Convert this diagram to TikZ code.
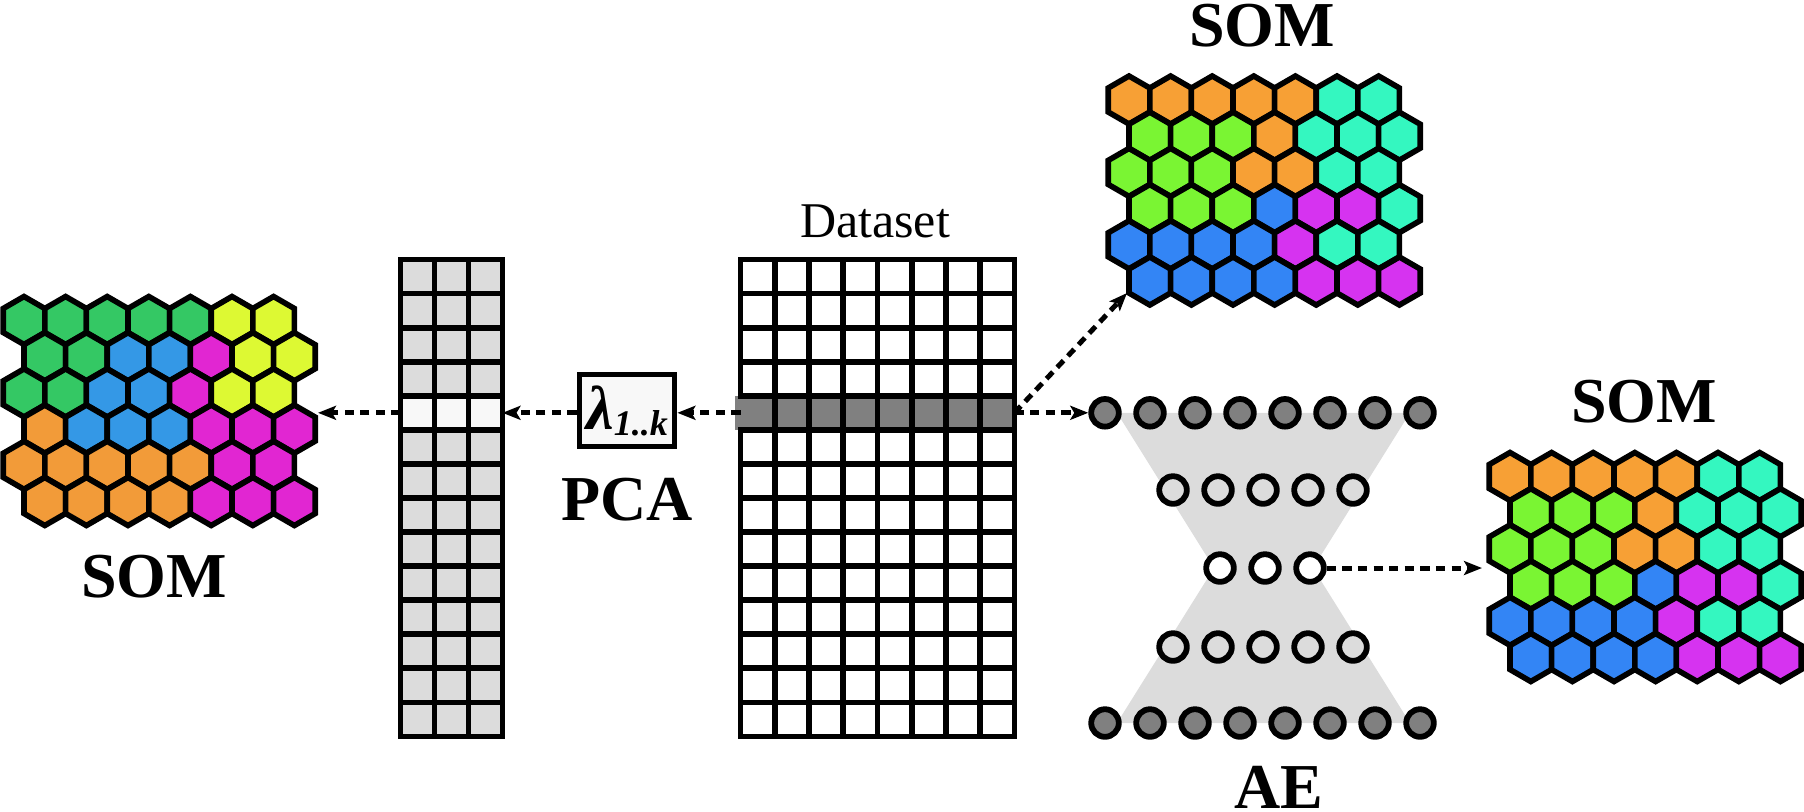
\documentclass[tikz,border=0pt]{standalone}
\usepackage{fontspec}
\setmainfont{Liberation Serif}
\usetikzlibrary{arrows.meta}
\definecolor{lgreen}{HTML}{34C864}
\definecolor{lyellow}{HTML}{DDF933}
\definecolor{lblue}{HTML}{3498E6}
\definecolor{lmag}{HTML}{E126D2}
\definecolor{lorange}{HTML}{F29B39}
\definecolor{torange}{HTML}{F7A035}
\definecolor{tturq}{HTML}{34F7C0}
\definecolor{tlime}{HTML}{7AF533}
\definecolor{tblue}{HTML}{3385F5}
\definecolor{tpurp}{HTML}{D633F0}
\definecolor{lightgr}{HTML}{DCDCDC}
\definecolor{midgr}{HTML}{808080}
\definecolor{offwhite}{HTML}{F8F8F8}
\newcommand\hexat[3]{%
  \filldraw[hexcell, fill=#3] ({#1},{#2-24}) -- ({#1+20.8},{#2-12}) -- ({#1+20.8},{#2+12})
    -- ({#1},{#2+24}) -- ({#1-20.8},{#2+12}) -- ({#1-20.8},{#2-12}) -- cycle;}
\newcommand\drawsom[3]{%
  \foreach \rowcols [count=\ri from 0] in {#3} {%
    \foreach \hcol [count=\ci from 0] in \rowcols {%
      \pgfmathsetmacro\hx{#1+\ci*41.6+mod(\ri,2)*20.8}%
      \pgfmathsetmacro\hy{#2+\ri*36.2}%
      \hexat{\hx}{\hy}{\hcol}%
    }}}
\begin{document}
\begin{tikzpicture}[x=0.5pt,y=-0.5pt,
  hexcell/.style={draw=black, line width=2.8pt},
  gridline/.style={draw=black, line width=2.9pt, line cap=rect},
  flow/.style={line width=2.5pt, dash pattern=on 4.6pt off 3.2pt,
    -{Stealth[length=9pt,width=7pt,inset=2pt]}},
  biglabel/.style={font=\fontsize{32}{36}\selectfont\bfseries, inner sep=0pt, anchor=base},
  smalllabel/.style={font=\fontsize{25}{28}\selectfont, inner sep=0pt, anchor=base},
  lambox/.style={draw=black, line width=2.9pt, fill=offwhite, minimum width=47.5pt,
    minimum height=36pt, inner sep=0pt},
  unitbase/.style={circle, draw=black, line width=2.9pt, minimum size=13.8pt, inner sep=0pt},
  unitio/.style={unitbase, fill=midgr},
  unithid/.style={unitbase, fill=lightgr},
  unitcode/.style={unitbase, fill=white}]
\useasboundingbox (0,0) rectangle (1804,811);

% ---------- SOM maps ----------
\drawsom{24}{320.5}{%
  {lgreen,lgreen,lgreen,lgreen,lgreen,lyellow,lyellow},
  {lgreen,lgreen,lblue,lblue,lmag,lyellow,lyellow},
  {lgreen,lgreen,lblue,lblue,lmag,lyellow,lyellow},
  {lorange,lblue,lblue,lblue,lmag,lmag,lmag},
  {lorange,lorange,lorange,lorange,lorange,lmag,lmag},
  {lorange,lorange,lorange,lorange,lmag,lmag,lmag}}
\drawsom{1129}{100}{%
  {torange,torange,torange,torange,torange,tturq,tturq},
  {tlime,tlime,tlime,torange,tturq,tturq,tturq},
  {tlime,tlime,tlime,torange,torange,tturq,tturq},
  {tlime,tlime,tlime,tblue,tpurp,tpurp,tturq},
  {tblue,tblue,tblue,tblue,tpurp,tturq,tturq},
  {tblue,tblue,tblue,tblue,tpurp,tpurp,tpurp}}
\drawsom{1510}{476.5}{%
  {torange,torange,torange,torange,torange,tturq,tturq},
  {tlime,tlime,tlime,torange,tturq,tturq,tturq},
  {tlime,tlime,tlime,torange,torange,tturq,tturq},
  {tlime,tlime,tlime,tblue,tpurp,tpurp,tturq},
  {tblue,tblue,tblue,tblue,tpurp,tturq,tturq},
  {tblue,tblue,tblue,tblue,tpurp,tpurp,tpurp}}

\node[biglabel] (somLlab) at (154,597) {SOM};
\node[biglabel] (somTlab) at (1262,46) {SOM};
\node[biglabel] (somRlab) at (1644,422) {SOM};

% ---------- Dataset grid ----------
\fill[midgr] (735,395.8) rectangle (1014.5,429.9);
\foreach \k in {0,...,14} {
  \draw[gridline] (740.5,{259.5+\k*34.07}) -- (1014.5,{259.5+\k*34.07});
}
\foreach \j in {1,...,8} {
  \draw[gridline] ({740.5+\j*34.25},259.5) -- ({740.5+\j*34.25},736.5);
}
\draw[gridline] (740.5,259.5) -- (740.5,395.8);
\draw[gridline] (740.5,429.9) -- (740.5,736.5);
\node[smalllabel] (datalab) at (875,237) {Dataset};

% ---------- PCA column ----------
\fill[lightgr] (400.5,259.5) rectangle (502.5,736.5);
\fill[offwhite] (400.5,395.8) rectangle (502.5,429.9);
\foreach \k in {0,...,14} {
  \draw[gridline] (400.5,{259.5+\k*34.07}) -- (502.5,{259.5+\k*34.07});
}
\foreach \j in {0,...,3} {
  \draw[gridline] ({400.5+\j*34},259.5) -- ({400.5+\j*34},736.5);
}

\node[lambox] (lam) at (627,410.5)
  {\bfseries\itshape\fontsize{31}{31}\selectfont λ\fontsize{18}{18}\selectfont\raisebox{-3pt}{1..k}};
\node[biglabel] (pcalab) at (627,520) {PCA};

% ---------- Autoencoder ----------
\fill[lightgr] (1117,412.8) -- (1410,412.8) -- (1313,568) -- (1410,723) -- (1117,723) -- (1214,568) -- cycle;
\foreach \n in {1,...,8} {
  \node[unitio] (i\n) at ({1105+(\n-1)*45},412.8) {};
  \node[unitio] (o\n) at ({1105+(\n-1)*45},723) {};
}
\foreach \n in {1,...,5} {
  \node[unithid] (h\n) at ({1173+(\n-1)*45},490) {};
  \node[unithid] (g\n) at ({1173+(\n-1)*45},647) {};
}
\foreach \n in {1,...,3} {
  \node[unitcode] (m\n) at ({1220+(\n-1)*45},568) {};
}
\node[biglabel] (aelab) at (1279,808) {AE};

% ---------- connectors ----------
\coordinate (data-w) at (740.5,412.8);
\coordinate (data-e) at (1014.5,412.8);
\coordinate (pca-e) at (502.5,412.8);
\coordinate (pca-w) at (400.5,412.8);
\coordinate (somL-in) at (318,412.8);
\coordinate (somT-in) at (1127,293);
\coordinate (somR-in) at (1482,568);

\draw[flow] (data-w) -- (data-w -| lam.east);
\draw[flow] (lam.west |- pca-e) -- (pca-e);
\draw[flow] (pca-w) -- (somL-in);
\draw[flow] (data-e) -- (somT-in);
\draw[flow] (data-e) -- (i1);
\draw[flow] (m3) -- (somR-in);
\end{tikzpicture}
\end{document}
